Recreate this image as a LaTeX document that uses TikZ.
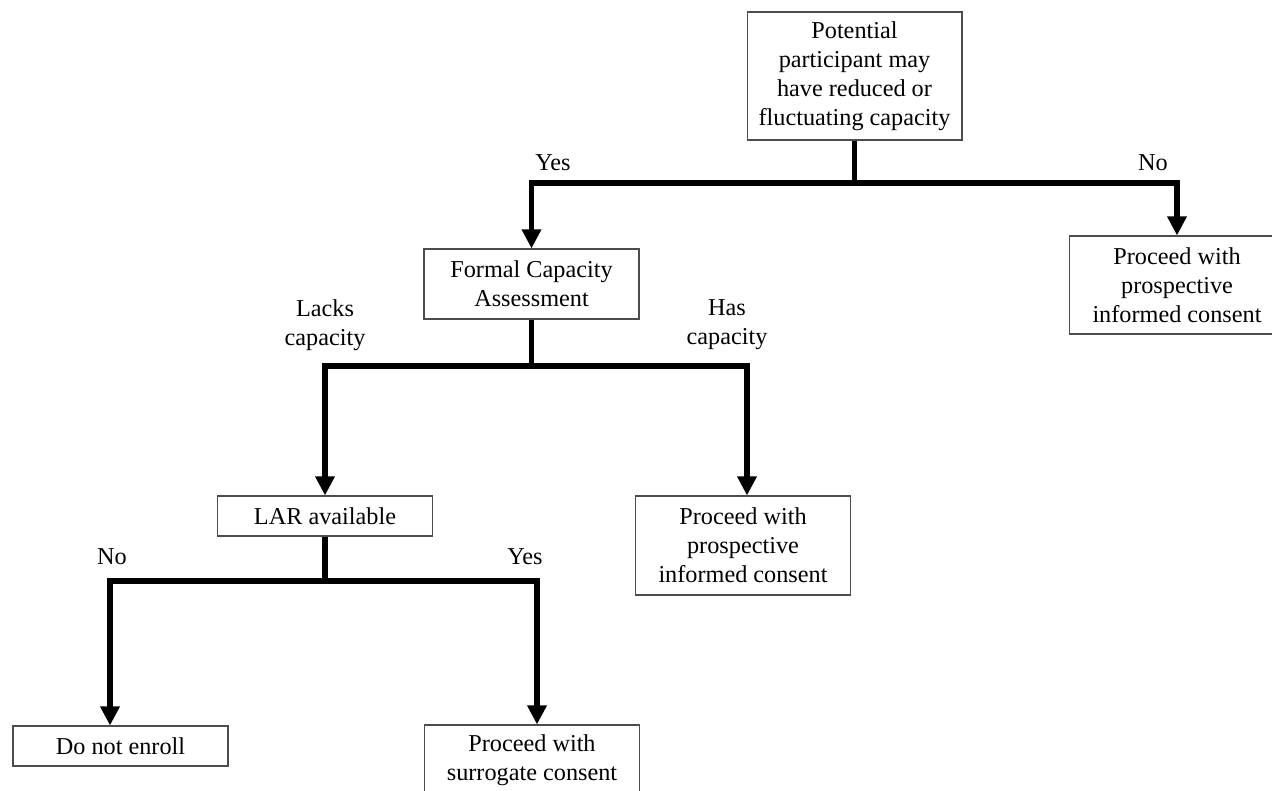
\documentclass[tikz,border=0pt]{standalone}
\usepackage{fontspec}
\setmainfont{Liberation Serif}
\usetikzlibrary{arrows.meta}

\begin{document}
\begin{tikzpicture}[x=0.02cm,y=-0.02cm,font=\fontsize{13.8}{16.6}\selectfont,
                    main node/.style={draw=black!70,line width=0.6pt,align=center,inner sep=2pt,minimum width=4.3cm},
                    link/.style={line width=3.2pt},
                    arrow/.style={link,-{Triangle[length=0.38cm,width=0.37cm]}},
                    label node/.style={align=center,inner sep=0pt}]

  \useasboundingbox (0,0) rectangle (1272,791);

  \node[main node,minimum height=2.56cm] (1) at (854.5,76) {Potential\\participant may\\have reduced or\\fluctuating capacity};
  \node[main node,minimum height=1.4cm] (2) at (531.5,284) {Formal Capacity\\Assessment};
  \node[main node,minimum height=1.96cm] (3) at (1177,285) {Proceed with\\prospective\\informed consent};
  \node[main node,minimum height=0.8cm] (4) at (325,516) {LAR available};
  \node[main node,minimum height=1.98cm] (5) at (743,545.5) {Proceed with\\prospective\\informed consent};
  \node[main node,minimum height=0.8cm] (6) at (120.5,746) {Do not enroll};
  \node[main node,minimum height=1.4cm] (7) at (532,760) {Proceed with\\surrogate consent};

  \coordinate (j1) at (854.5,183);
  \coordinate (j2) at (531.5,366);
  \coordinate (j3) at (325,581);

  % branch labels
  \node[label node] (yes1) at (553,163) {Yes};
  \node[label node] (no1) at (1153,163) {No};
  \node[label node] (lacks) at (325,325) {Lacks\\capacity};
  \node[label node] (has) at (727,325) {Has\\capacity};
  \node[label node] (no2) at (112,557) {No};
  \node[label node] (yes2) at (525,557) {Yes};

  \draw[link] (1) -- (j1);
  \draw[arrow] (j1) -| (2.north);
  \draw[arrow] (j1) -| (3.north);

  \draw[link] (2) -- (j2);
  \draw[arrow] (j2) -| (4.north);
  \draw[arrow] (j2) -| ([xshift=0.08cm]5.north);

  \draw[link] (4) -- (j3);
  \draw[arrow] (j3) -| ([xshift=-0.21cm]6.north);
  \draw[arrow] (j3) -| ([xshift=0.1cm]7.north);
\end{tikzpicture}
\end{document}
